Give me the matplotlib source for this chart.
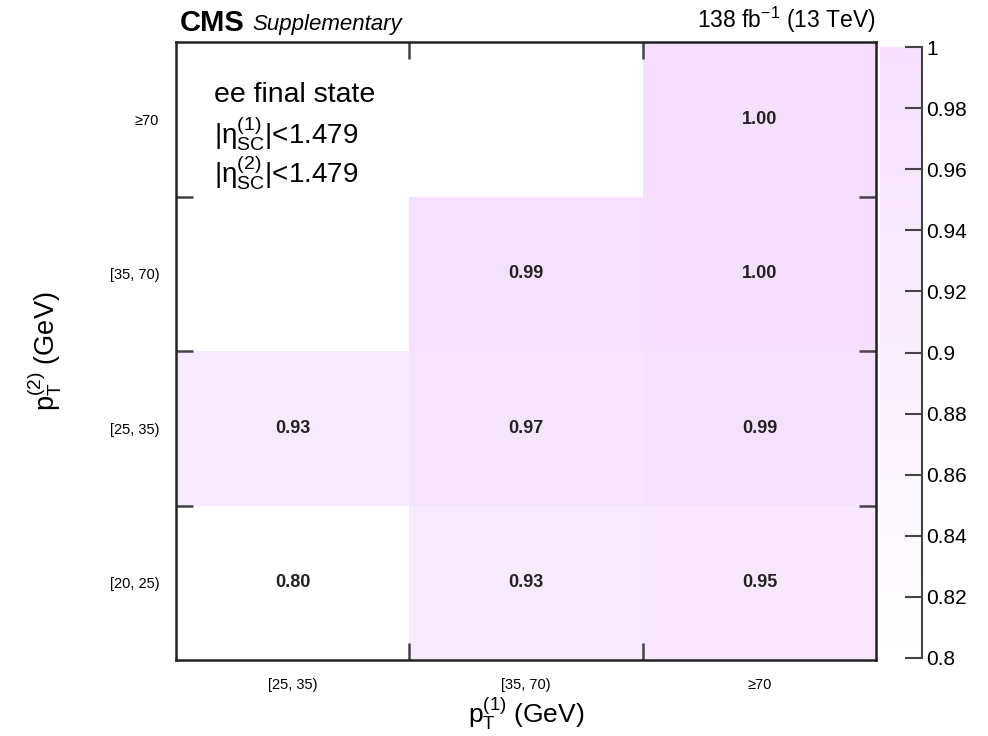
import numpy as np
import matplotlib
matplotlib.use("Agg")
import matplotlib.pyplot as plt
from matplotlib.colors import LinearSegmentedColormap
from matplotlib.ticker import FixedLocator, FuncFormatter

plt.rcParams['font.family'] = ['Liberation Sans', 'DejaVu Sans']
plt.rcParams['mathtext.fontset'] = 'custom'
plt.rcParams['mathtext.rm'] = 'Liberation Sans'
plt.rcParams['mathtext.it'] = 'Liberation Sans:italic'
plt.rcParams['mathtext.bf'] = 'Liberation Sans:bold'

# Bin labels
pt1_labels = ["[25, 35)", "[35, 70)", "\u226570"]
pt2_labels = ["[20, 25)", "[25, 35)", "[35, 70)", "\u226570"]

# Efficiency per (pT2 row, pT1 column); NaN = empty bin
eff_row_20_25 = [0.80, 0.93, 0.95]
eff_row_25_35 = [0.93, 0.97, 0.99]
eff_row_35_70 = [np.nan, 0.99, 1.00]
eff_row_ge70 = [np.nan, np.nan, 1.00]

eff = np.array([eff_row_20_25, eff_row_25_35, eff_row_35_70, eff_row_ge70])
zmin, zmax = 0.8, 1.0

cmap = LinearSegmentedColormap.from_list("pale", ["#ffffff", "#f5dffd"])

fig = plt.figure(figsize=(9.88, 7.36), dpi=100)
ax = fig.add_axes([0.178, 0.103, 0.709, 0.840])

ncol, nrow = eff.shape[1], eff.shape[0]
xe = np.arange(ncol + 1)
ye = np.arange(nrow + 1)
mesh = ax.pcolormesh(xe, ye, np.ma.masked_invalid(eff), cmap=cmap,
                     vmin=zmin, vmax=zmax, shading='flat')

for r in range(nrow):
    for c in range(ncol):
        v = eff[r, c]
        if not np.isnan(v):
            ax.text(c + 0.5, r + 0.5, f"{v:.2f}", ha='center', va='center',
                    fontsize=13, fontweight='bold', color='#222222')

ax.set_xlim(0, ncol)
ax.set_ylim(0, nrow)

# labels at bin centres, ticks at bin edges
ax.set_xticks(np.arange(ncol) + 0.5)
ax.set_xticklabels(pt1_labels, fontsize=10.5)
ax.set_yticks(np.arange(nrow) + 0.5)
ax.set_yticklabels(pt2_labels, fontsize=10.5)
ax.tick_params(which='major', length=0)
ax.tick_params(axis='y', which='major', pad=12)
ax.tick_params(axis='x', which='major', pad=13)
ax.xaxis.set_minor_locator(FixedLocator(xe[1:-1]))
ax.yaxis.set_minor_locator(FixedLocator(ye[1:-1]))
ax.tick_params(which='minor', direction='in', length=12, width=1.8,
               color='#444444', top=True, right=True)
for s in ax.spines.values():
    s.set_linewidth(1.8)
    s.set_color('#222222')

ax.set_xlabel(r"p$_\mathrm{T}^{(1)}$ (GeV)", fontsize=19)
ax.set_ylabel(r"p$_\mathrm{T}^{(2)}$ (GeV)", fontsize=19.5)
ax.xaxis.set_label_coords(0.5, -0.056)
ax.yaxis.set_label_coords(-0.16, 0.5)

ax.text(0.055, 0.935, "ee final state", transform=ax.transAxes,
        fontsize=20.5, va='top', ha='left')
ax.text(0.055, 0.884, "|\u03b7$_\\mathrm{SC}^{(1)}$|<1.479",
        transform=ax.transAxes, fontsize=20, va='top', ha='left')
ax.text(0.055, 0.820, "|\u03b7$_\\mathrm{SC}^{(2)}$|<1.479",
        transform=ax.transAxes, fontsize=20, va='top', ha='left')

fig.text(0.182, 0.950, "CMS", fontsize=21, fontweight='bold', ha='left',
         va='bottom')
fig.text(0.255, 0.952, "Supplementary", fontsize=16, style='italic',
         ha='left', va='bottom')
fig.text(0.886, 0.952, r"138 fb$^{-1}$ (13 TeV)", fontsize=16.5,
         ha='right', va='bottom')

# colour scale
cax = fig.add_axes([0.891, 0.106, 0.042, 0.830])
cb = fig.colorbar(mesh, cax=cax)
cb.outline.set_visible(False)
cax.spines['right'].set_visible(True)
cax.spines['right'].set_linewidth(1.5)
cax.spines['right'].set_color('#444444')
cb.set_ticks(np.round(np.arange(zmin, zmax + 1e-9, 0.02), 2))
cax.yaxis.set_major_formatter(FuncFormatter(lambda v, p: f"{v:g}"))
cax.tick_params(direction='in', length=12, width=1.5, color='#444444',
                labelsize=15, pad=3)

fig.savefig("out.png", dpi=100)
